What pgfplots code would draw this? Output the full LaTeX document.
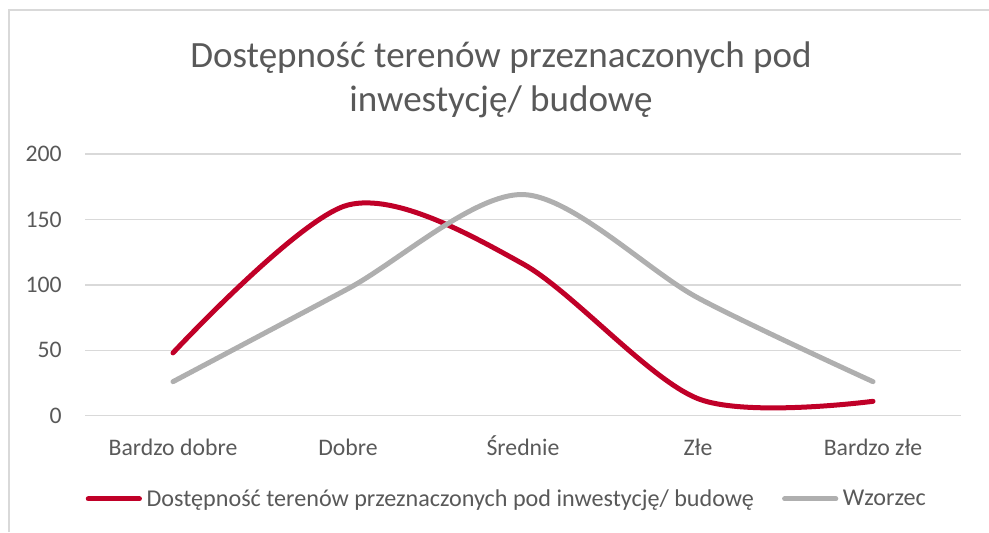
\documentclass[border=0pt]{standalone}
\usepackage{pgfplots}
\pgfplotsset{compat=1.18}
\usepackage{fontspec}
\setmainfont{Carlito}
\definecolor{txt}{HTML}{595959}
\definecolor{gridc}{HTML}{D9D9D9}
\definecolor{redl}{HTML}{C00028}
\definecolor{grayl}{HTML}{AFAFAF}
\begin{document}
\begin{tikzpicture}
\useasboundingbox (0pt,0pt) rectangle (741.75pt,399pt);
\draw[gridc, line width=1.3pt] (6.75pt,0pt) -- (6.75pt,391.5pt) -- (741.75pt,391.5pt);
\node[text=txt, font=\fontsize{27.8}{33}\selectfont, anchor=base, inner sep=0pt] at (375.75pt,348pt) {Dostępność terenów przeznaczonych pod};
\node[text=txt, font=\fontsize{27.8}{33}\selectfont, anchor=base, inner sep=0pt] at (375.75pt,315pt) {inwestycję/ budowę};
\begin{axis}[
  at={(64.125pt,87.225pt)}, anchor=south west,
  scale only axis, width=656.25pt, height=196.3pt,
  xmin=-0.5, xmax=4.5, ymin=0, ymax=200,
  ytick={0,50,100,150,200},
  xtick={0,1,2,3,4},
  xticklabels={Bardzo dobre, Dobre, Średnie, Złe, Bardzo złe},
  ymajorgrids, grid style={gridc, line width=1.1pt},
  axis line style={draw=none}, tick style={draw=none},
  /pgf/number format/assume math mode=true,
  ticklabel style={text=txt, font=\fontsize{17.8}{21}\selectfont, inner sep=0pt},
  yticklabel style={anchor=east, xshift=-17.6pt},
  xticklabel style={anchor=base, yshift=-29.5pt},
  legend columns=2,
  legend style={at={(0,-0.318)}, anchor=west, draw=none, inner sep=0pt,
    font=\fontsize{18.1}{21}\selectfont, text=txt,
    nodes={inner sep=0pt},
    /tikz/every odd column/.style={column sep=3.5pt},
    /tikz/every even column/.style={column sep=21pt}},
  legend image code/.code={\draw[#1, line cap=round] (1.4pt,0pt) -- (39.8pt,0pt);},
  clip=false,
]
\addplot[redl, line width=3.75pt, smooth, line cap=round] coordinates {(0,48) (1,161) (2,116) (3,13) (4,11)};
\addlegendentry{Dostępność terenów przeznaczonych pod inwestycję/ budowę}
\addplot[grayl, line width=3.75pt, smooth, line cap=round] coordinates {(0,26) (1,97) (2,169) (3,90) (4,26)};
\addlegendentry{Wzorzec}
\end{axis}
\end{tikzpicture}
\end{document}
